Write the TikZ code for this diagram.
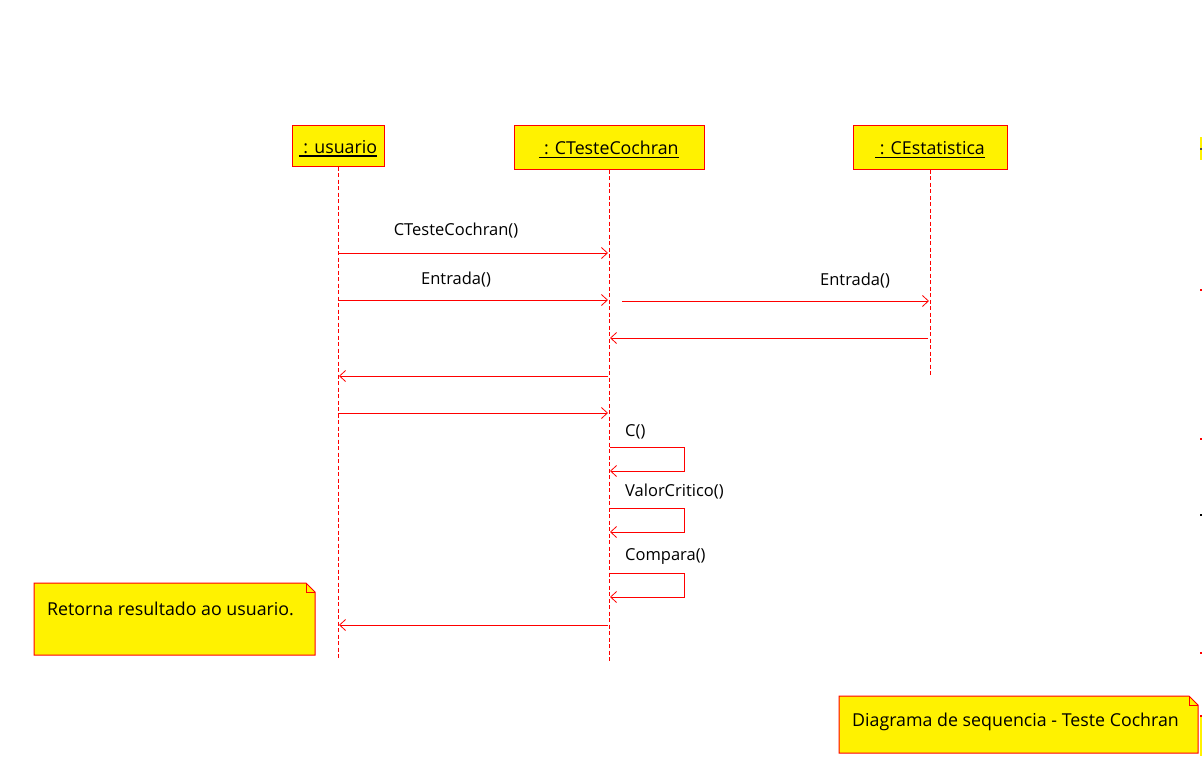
\documentclass[tikz,border=0pt]{standalone}
\usepackage{fontspec}
\setmainfont{Open Sans}
\usetikzlibrary{arrows.meta}
% underlined object name with a firmer rule
\newcommand\objname[2][1.4pt]{\setbox0\hbox{#2}\rlap{\rule[-3.6pt]{\wd0}{#1}}\box0}
\begin{document}
\begin{tikzpicture}[x=1pt,y=-1pt,
  every node/.style={font=\fontsize{16.5}{19}\selectfont, text=black},
  bigtext/.style={font=\fontsize{17.8}{21}\selectfont},
  objbox/.style={draw=red, fill=yellow, line width=1pt, inner sep=0pt, bigtext,
                 text height=15.5pt, text depth=0pt},
  lifeline/.style={draw=red, line width=0.8pt, dash pattern=on 4pt off 2.5pt},
  msg/.style={draw=red, line width=0.9pt, -{Straight Barb[length=6pt,width=11pt,line width=0.8pt]}},
  notebox/.style={draw=red, fill=yellow, line width=1pt},
  lbl/.style={inner sep=0pt}]
\useasboundingbox (0,0) rectangle (1202,756);

% object boxes
\node[objbox, minimum width=92pt, minimum height=41pt] (usr) at (338,145.5) {\objname[2.2pt]{\ : usuario}};
\node[objbox, minimum width=190pt, minimum height=44pt] (tc) at (609,147) {\objname{\ : CTesteCochran}};
\node[objbox, minimum width=154pt, minimum height=44pt] (est) at (930,147) {\objname{\ : CEstatistica}};

% lifelines
\coordinate (usrEnd) at (338,660);
\coordinate (tcEnd) at (609,662);
\coordinate (estEnd) at (930,375);
\draw[lifeline] (usr.south) -- (usrEnd);
\draw[lifeline] (tc.south) -- (tcEnd);
\draw[lifeline] (est.south) -- (estEnd);

% message end points
\coordinate (m1a) at (338,253); \coordinate (m1b) at (608,253);
\coordinate (m2a) at (338,300); \coordinate (m2b) at (608,300);
\coordinate (m3a) at (622,301); \coordinate (m3b) at (929,301);
\coordinate (m4a) at (928,338); \coordinate (m4b) at (610,338);
\coordinate (m5a) at (608,376); \coordinate (m5b) at (339,376);
\coordinate (m6a) at (338,413); \coordinate (m6b) at (608,413);
\coordinate (s1a) at (610,447); \coordinate (s1b) at (610,471);
\coordinate (s2a) at (610,508); \coordinate (s2b) at (610,532);
\coordinate (s3a) at (610,573); \coordinate (s3b) at (610,597);
\coordinate (m7a) at (608,625); \coordinate (m7b) at (339,625);

% messages
\draw[msg] (m1a) -- (m1b);
\draw[msg] (m2a) -- (m2b);
\draw[msg] (m3a) -- (m3b);
\draw[msg] (m4a) -- (m4b);
\draw[msg] (m5a) -- (m5b);
\draw[msg] (m6a) -- (m6b);
\draw[msg] (s1a) -- ++(74,0) |- (s1b);
\draw[msg] (s2a) -- ++(74,0) |- (s2b);
\draw[msg] (s3a) -- ++(74,0) |- (s3b);
\draw[msg] (m7a) -- (m7b);

% message labels
\node[lbl] (l1) at (456,231) {CTesteCochran()};
\node[lbl] (l2) at (456,280) {Entrada()};
\node[lbl] (l3) at (855,281) {Entrada()};
\node[lbl, anchor=west] (l4) at (625,432) {C()};
\node[lbl, anchor=west] (l5) at (625,492) {ValorCritico()};
\node[lbl, anchor=west] (l6) at (625,556) {Compara()};

% notes
\draw[notebox] (34,583) -- (306,583) -- (315,592) -- (315,655) -- (34,655) -- cycle;
\draw[red, line width=0.8pt] (306,583) -- (306,592) -- (315,592);
\node[lbl, anchor=west, bigtext] (n1) at (47,609) {Retorna resultado ao usuario.};

\draw[notebox] (839,696) -- (1189,696) -- (1198,705) -- (1198,753) -- (839,753) -- cycle;
\draw[red, line width=0.8pt] (1189,696) -- (1189,705) -- (1198,705);
\node[lbl, anchor=west, bigtext] (n2) at (852,722) {Diagrama de sequencia - Teste Cochran};

% partial shapes at the right margin
\fill[yellow] (1200,137) rectangle (1202,160);
\fill[black!70] (1200,148) rectangle (1202,150);
\fill[red] (1200,289) rectangle (1202,291);
\fill[red] (1200,438) rectangle (1202,440);
\fill[black] (1200,514) rectangle (1202,516);
\fill[red] (1200,652) rectangle (1202,654);
\fill[yellow] (1200,716) rectangle (1202,756);
\fill[red] (1200,715) rectangle (1202,717);
\end{tikzpicture}
\end{document}
